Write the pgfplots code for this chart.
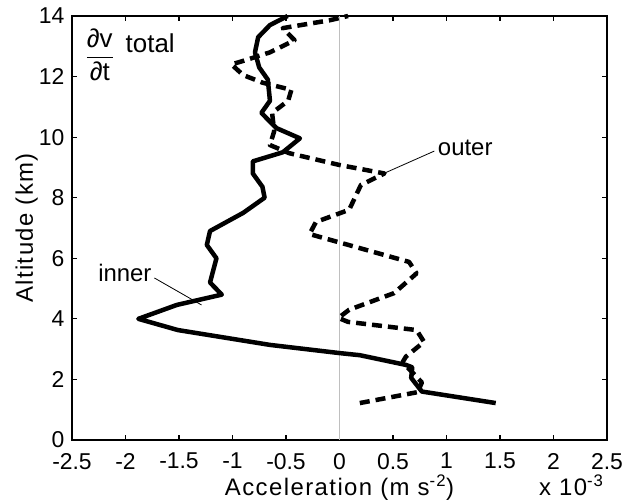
\documentclass[border=0pt]{standalone}
\usepackage{pgfplots}
\pgfplotsset{compat=1.18}
\usepackage{fontspec}
\setmainfont{Liberation Sans}
\newfontfamily\labelfont[LetterSpace=6]{Liberation Sans}
\begin{document}
\begin{tikzpicture}
\begin{axis}[
  scale only axis,
  width=535bp, height=424bp,
  xmin=-2.5, xmax=2.5, ymin=0, ymax=14,
  xtick={-2.5,-2,-1.5,-1,-0.5,0,0.5,1,1.5,2,2.5},
  xticklabels={-2.5,-2,-1.5,-1,-0.5,0,0.5,1,1.5,2,2.5},
  ytick={0,2,4,6,8,10,12,14},
  yticklabels={0,2,4,6,8,10,12,14},
  tick align=inside,
  major tick length=5bp,
  tick style={black, line width=1.2bp},
  axis line style={line width=2bp},
  tick label style={font=\fontsize{23}{25}\selectfont, inner sep=1bp},
  xticklabel style={yshift=-12bp},
  yticklabel style={xshift=-6.5bp},
  xlabel={\labelfont Acceleration (m s\textsuperscript{-2})},
  ylabel={\labelfont Altitude (km)},
  xlabel style={font=\fontsize{24}{26}\selectfont, anchor=base, at={(axis description cs:0.5,0)}, yshift=-55bp},
  ylabel style={font=\fontsize{24}{26}\selectfont, anchor=base, at={(axis description cs:0,0.5)}, yshift=39bp},
  clip=false,
]
\draw[black!25, line width=0.8bp] (axis cs:0,0) -- (axis cs:0,14);
\addplot[black, line width=4.5bp, line join=round] coordinates {
(1.46,1.22) (0.77,1.6) (0.67,2.05) (0.68,2.4) (0.62,2.48) (0.19,2.8)
(0,2.87) (-0.65,3.14) (-1.51,3.63) (-1.88,4.0) (-1.52,4.46) (-1.10,4.8)
(-1.21,5.2) (-1.15,6.0) (-1.24,6.44) (-1.21,6.9) (-0.9,7.5) (-0.7,8.0)
(-0.72,8.36) (-0.81,8.8) (-0.81,9.2) (-0.53,9.5) (-0.37,9.96) (-0.59,10.3)
(-0.73,10.8) (-0.65,11.2) (-0.67,11.9) (-0.75,12.3) (-0.79,12.8) (-0.76,13.3)
(-0.65,13.7) (-0.485,14)
};
\addplot[black, line width=4.5bp, dash pattern=on 10bp off 6bp, line join=round] coordinates {
(0.19,1.22) (0.73,1.58) (0.77,1.9) (0.59,2.57) (0.62,2.75) (0.79,3.24)
(0.72,3.63) (0.08,3.9) (-0.01,4.03) (0.09,4.3) (0.51,4.85) (0.72,5.5)
(0.65,5.88) (-0.28,6.8) (-0.22,7.2) (0.09,7.6) (0.2,8.42) (0.42,8.8)
(0,9.08) (-0.47,9.47) (-0.65,9.74) (-0.61,10.2) (-0.63,10.8) (-0.48,11.2)
(-0.45,11.56) (-0.72,11.8) (-0.9,12.05) (-1.01,12.4) (-0.87,12.55) (-0.65,12.8)
(-0.42,13.2) (-0.53,13.6) (-0.09,13.86) (0.08,14)
};
\draw[line width=0.8bp] (axis cs:-1.73,5.35) -- (axis cs:-1.29,4.46);
\node[font=\fontsize{24}{26}\selectfont, anchor=base] at (axis cs:-2.006,5.22) {inner};
\draw[line width=0.8bp] (axis cs:0.886,9.54) -- (axis cs:0.42,8.81);
\node[font=\fontsize{24}{26}\selectfont, anchor=base] at (axis cs:1.175,9.39) {outer};
\node[font=\fontsize{26}{28}\selectfont, inner sep=0pt] at (axis cs:-2.24,12.72)
  {$\displaystyle{\hbox{∂v}\over\hbox{∂t}}$};
\node[font=\fontsize{26}{28}\selectfont, anchor=base west, inner sep=0pt] at (axis cs:-2.0,12.78) {total};
\node[font=\fontsize{24}{26}\selectfont, anchor=base east] at ([yshift=-55bp]current axis.south east) {\labelfont x 10\textsuperscript{-3}};
\end{axis}
\pgfresetboundingbox
\path ([xshift=-72bp,yshift=-60bp]current axis.south west) rectangle ([xshift=23bp,yshift=16bp]current axis.north east);
\end{tikzpicture}
\end{document}
